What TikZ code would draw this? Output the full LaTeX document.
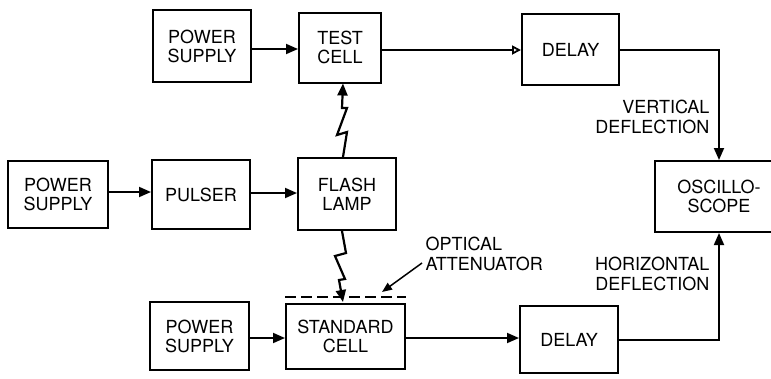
\documentclass[tikz,border=0pt]{standalone}
\usepackage{fontspec}
\setmainfont{TeX Gyre Heros}
\usepackage{tikz}
\usetikzlibrary{arrows.meta,positioning,calc}

\begin{document}
\begin{tikzpicture}[x=1pt, y=-1pt,
    blk/.style={draw, line width=2pt, align=center, inner sep=0pt,
        font=\fontsize{18}{19}\selectfont},
    wire/.style={line width=1.8pt, -{Triangle[length=12pt,width=10pt]}},
    zap/.style={line width=2.2pt, line join=miter, -{Triangle[length=12pt,width=10pt]}},
    lbl/.style={font=\fontsize{18}{20}\selectfont}]
        \useasboundingbox (0,0) rectangle (771,378);

        % ============================================================
        % Top row - test cell branch
        % ============================================================
        \node[blk, minimum width=98pt, minimum height=72pt] (psA) at (202,46) {POWER\\SUPPLY};
        \node[blk, minimum width=82pt, minimum height=70pt] (test) at (340,47.5) {TEST\\CELL};
        \node[blk, minimum width=97pt, minimum height=71pt] (delA) at (570.5,49.5) {DELAY};

        % ============================================================
        % Middle row - pulser and lamp
        % ============================================================
        \node[blk, minimum width=100pt, minimum height=67pt] (psB) at (58,194.5) {POWER\\SUPPLY};
        \node[blk, minimum width=98pt, minimum height=69pt] (pulser) at (201,194.5) {PULSER};
        \node[blk, minimum width=98pt, minimum height=72pt] (lamp) at (347,194) {FLASH\\LAMP};
        \node[blk, minimum width=128pt, minimum height=71pt] (scope) at (719,196.5) {OSCILLO-\\SCOPE};

        % ============================================================
        % Bottom row - standard cell branch
        % ============================================================
        \node[blk, minimum width=99pt, minimum height=68pt] (psC) at (199.5,336) {POWER\\SUPPLY};
        \node[blk, minimum width=119pt, minimum height=65pt] (std) at (345.5,336.5) {STANDARD\\CELL};
        \node[blk, minimum width=98pt, minimum height=67pt] (delB) at (569,339.5) {DELAY};

        % attenuator over the standard cell
        \draw[line width=2pt, dash pattern=on 11pt off 5pt]
            ([yshift=6pt]std.north west) -- ([yshift=6pt]std.north east);

        % connectors
        \draw[wire] (psA.east |- 0,49) -- (test.west |- 0,49);
        \draw[line width=1.8pt, -{Triangle[open,length=9pt,width=9pt]}] (test.east |- 0,50) -- (delA.west |- 0,50);
        \draw[wire] (delA.east |- 0,50) -- (719,50) -- (scope.north -| 719,0);
        \draw[wire] (psB.east |- 0,192) -- (pulser.west |- 0,192);
        \draw[wire] (pulser.east |- 0,193) -- (lamp.west |- 0,193);
        \draw[wire] (psC.east |- 0,338) -- (std.west |- 0,338);
        \draw[wire] (std.east |- 0,338) -- (delB.west |- 0,338);
        \draw[wire] (delB.east |- 0,340) -- (719,340) -- (scope.south -| 719,0);

        % light from the lamp
        \draw[zap] ([xshift=-4pt]lamp.north) -- (347,132) -- (337,135) -- (347,108) -- (342,108) -- ([xshift=3pt]test.south);
        \draw[zap] ([xshift=-5pt]lamp.south) -- (346,253) -- (335,256) -- (345,279) -- (339,280) -- (343,302);

        % labels
        \node[lbl, align=right, anchor=east] (vert) at (713,117) {VERTICAL\\DEFLECTION};
        \node[lbl, align=right, anchor=east] (horz) at (713,274) {HORIZONTAL\\DEFLECTION};
        \node[lbl, align=left, anchor=west] (atten) at (422,254) {OPTICAL\\ATTENUATOR};
        \draw[line width=1.5pt, -{Triangle[length=10pt,width=8pt]}] (atten.west |- 0,263) -- (382,292);

    \end{tikzpicture}
\end{document}
